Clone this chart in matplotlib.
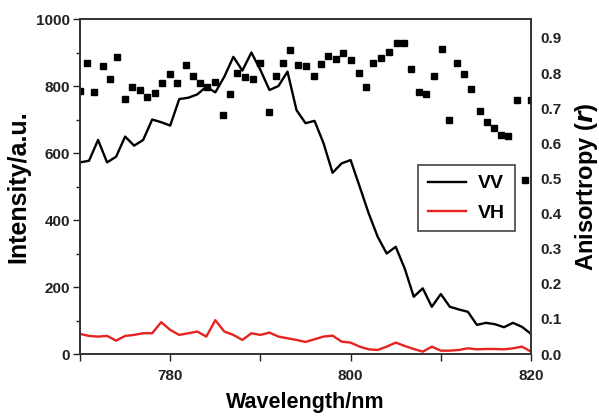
import matplotlib
matplotlib.use('Agg')
import matplotlib.pyplot as plt
from matplotlib.ticker import MultipleLocator

plt.rcParams['font.family'] = ['Liberation Sans', 'DejaVu Sans']
plt.rcParams['font.weight'] = 'bold'

# Emission intensity, 1 nm steps
wavelength = list(range(770, 821))
vv = [572, 577, 639, 572, 589, 649, 622, 639, 700, 692,
      682, 761, 765, 775, 798, 781, 828, 887, 846, 900,
      848, 788, 800, 843, 728, 689, 696, 629, 541, 569,
      579, 500, 420, 350, 300, 320, 255, 171, 196, 141,
      179, 141, 133, 126, 87, 93, 89, 80, 93, 81, 60]
vh = [60, 54, 52, 54, 40, 54, 57, 62, 62, 95,
      72, 57, 62, 67, 52, 101, 67, 57, 42, 62,
      57, 64, 52, 47, 42, 36, 44, 52, 55, 37,
      34, 22, 14, 12, 22, 34, 24, 15, 7, 22,
      10, 10, 12, 17, 14, 15, 15, 14, 17, 22, 7]

# Anisotropy points
r_wavelength = [770.0, 770.8, 771.6, 772.5, 773.3, 774.1, 775.0, 775.8, 776.6, 777.4,
                778.3, 779.1, 780.0, 780.8, 781.7, 782.5, 783.3, 784.1, 785.0, 785.8,
                786.6, 787.4, 788.3, 789.2, 790.0, 790.9, 791.7, 792.5, 793.3, 794.2,
                795.0, 795.9, 796.7, 797.5, 798.4, 799.2, 800.0, 800.9, 801.7, 802.5,
                803.4, 804.3, 805.1, 805.9, 806.7, 807.6, 808.4, 809.2, 810.1, 810.9,
                811.8, 812.6, 813.4, 814.3, 815.1, 815.9, 816.7, 817.5, 818.4, 819.3, 820.0]
anisotropy = [0.750, 0.828, 0.745, 0.820, 0.783, 0.845, 0.726, 0.760, 0.752, 0.733,
              0.743, 0.771, 0.797, 0.771, 0.823, 0.792, 0.771, 0.759, 0.774, 0.680,
              0.740, 0.801, 0.790, 0.783, 0.828, 0.689, 0.793, 0.828, 0.866, 0.823,
              0.821, 0.792, 0.826, 0.849, 0.840, 0.857, 0.838, 0.800, 0.760, 0.828,
              0.842, 0.861, 0.887, 0.887, 0.811, 0.745, 0.740, 0.791, 0.869, 0.665,
              0.828, 0.797, 0.756, 0.692, 0.661, 0.643, 0.625, 0.621, 0.724, 0.496, 0.724]

fig = plt.figure(figsize=(5.99, 4.16), dpi=100)
ax = fig.add_axes([0.1336, 0.149, 0.7529, 0.8053])
ax2 = ax.twinx()

l1, = ax.plot(wavelength, vv, color='black', lw=1.7, label='VV')
l2, = ax.plot(wavelength, vh, color='#e8231f', lw=1.7, label='VH')
ax2.plot(r_wavelength, anisotropy, ls='none', marker='s', ms=4.6,
         color='black')

ax.set_xlim(770, 820)
ax.set_ylim(0, 1000)
ax2.set_ylim(0, 0.954)

ax.xaxis.set_major_locator(MultipleLocator(20))
ax.xaxis.set_minor_locator(MultipleLocator(10))
ax.yaxis.set_major_locator(MultipleLocator(200))
ax.yaxis.set_minor_locator(MultipleLocator(100))
ax2.yaxis.set_major_locator(MultipleLocator(0.1))

ax.tick_params(axis='both', which='major', direction='out', length=5,
               width=1, labelsize=11, colors='#222222')
ax.tick_params(axis='x', which='major', pad=6)
ax.tick_params(axis='y', which='major', pad=2)
ax.tick_params(axis='both', which='minor', direction='out', length=3,
               width=1, colors='#222222')
ax.tick_params(axis='x', which='minor', length=5)
ax2.tick_params(axis='y', length=0, pad=7, labelsize=11, colors='#222222')
ax2.set_yticklabels([f'{v:.1f}' for v in ax2.get_yticks()])
for lab in ax.get_xticklabels() + ax.get_yticklabels() + ax2.get_yticklabels():
    lab.set_fontweight('bold')

for a in (ax, ax2):
    for s in a.spines.values():
        s.set_color('#333333')
        s.set_linewidth(1.2)

ax.set_xlabel('Wavelength/nm', fontsize=15.5, fontweight='bold', labelpad=6)
ax.set_ylabel('Intensity/a.u.', fontsize=18, fontweight='bold', labelpad=4)
ax2.set_ylabel('Anisortropy ($\\mathbfit{r}$)', fontsize=17, fontweight='bold',
               labelpad=8)

leg = ax2.legend(handles=[l1, l2], loc='upper left', bbox_to_anchor=(0.749, 0.564),
                 borderaxespad=0, fancybox=False, framealpha=1, edgecolor='#444444',
                 prop={'size': 14, 'weight': 'bold'}, handlelength=2.0,
                 labelspacing=0.6, handletextpad=0.6, borderpad=0.5)
leg.get_frame().set_linewidth(1.2)

fig.savefig('out.png', dpi=100)
